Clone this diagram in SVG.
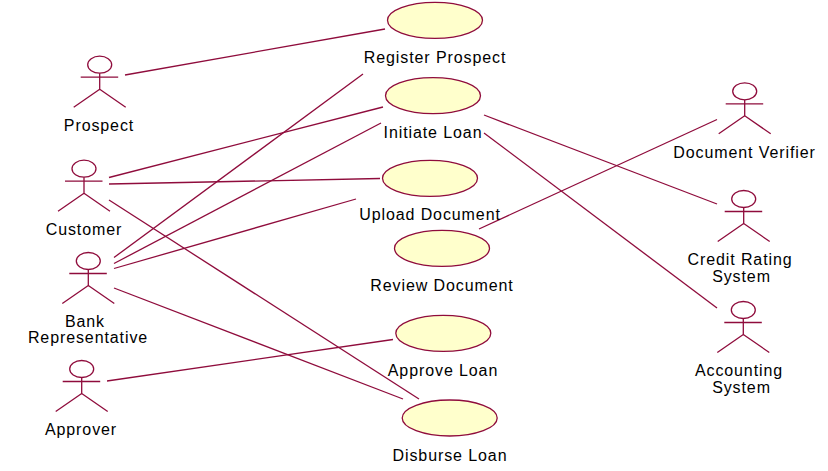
<svg xmlns="http://www.w3.org/2000/svg" width="828" height="471" viewBox="0 0 828 471">
<style>
text{font-family:"Liberation Sans",Arial,sans-serif;font-size:16px;letter-spacing:.9px;fill:#000;text-anchor:middle}
.l{fill:none;stroke:#8f0c3c;stroke-width:1.3}
.u{fill:#ffffcc;stroke:#8f0c3c;stroke-width:1.3}
.h{fill:#fff;stroke:#8f0c3c;stroke-width:1.3}
</style>
<defs>
<g id="actor"><ellipse class="h" cx="0" cy="0" rx="12" ry="8.5"/><path class="l" d="M-19 12.500H18.500M0 8.500V24.500M0 24.500L-26 42.500M0 24.500L26 42.500"/></g>
</defs>
<rect width="828" height="471" fill="#fff"/>
<g id="connectors" class="l">
<path d="M125 75L385 29"/>
<path d="M109 177.500L383 107"/>
<path d="M109 184L380 178.500"/>
<path d="M109 200L419 399"/>
<path d="M114 257.500L363 74"/>
<path d="M114 263.500L381 123"/>
<path d="M114 268.500L356 199"/>
<path d="M114 288L403 399"/>
<path d="M107 381L393 339.500"/>
<path d="M484 115L717 204"/>
<path d="M484 133L717 308"/>
<path d="M479 229L717 119.500"/>
</g>
<g id="prospect"><use href="#actor" x="99.700" y="64.700"/><text x="99" y="131">Prospect</text></g>
<g id="customer"><use href="#actor" x="84" y="168.700"/><text x="84" y="235">Customer</text></g>
<g id="bank-representative"><use href="#actor" x="88.300" y="261"/><text x="85" y="327">Bank</text><text x="88" y="343">Representative</text></g>
<g id="approver"><use href="#actor" x="81.700" y="369"/><text x="81" y="435">Approver</text></g>
<g id="document-verifier"><use href="#actor" x="744.700" y="91.300"/><text x="744.500" y="158">Document Verifier</text></g>
<g id="credit-rating-system"><use href="#actor" x="743.700" y="199"/><text x="740" y="265">Credit Rating</text><text x="741.500" y="282">System</text></g>
<g id="accounting-system"><use href="#actor" x="743.300" y="310"/><text x="739" y="376">Accounting</text><text x="741.500" y="393">System</text></g>
<g id="register-prospect"><ellipse class="u" cx="435" cy="20.300" rx="47.500" ry="18"/><text x="435" y="63">Register Prospect</text></g>
<g id="initiate-loan"><ellipse class="u" cx="433" cy="95.700" rx="47.500" ry="18"/><text x="433" y="138">Initiate Loan</text></g>
<g id="upload-document"><ellipse class="u" cx="430" cy="178.300" rx="47.500" ry="18"/><text x="430" y="220">Upload Document</text></g>
<g id="review-document"><ellipse class="u" cx="442" cy="248.300" rx="47.500" ry="18"/><text x="442" y="291">Review Document</text></g>
<g id="approve-loan"><ellipse class="u" cx="443.300" cy="333.300" rx="47.500" ry="18"/><text x="443" y="376">Approve Loan</text></g>
<g id="disburse-loan"><ellipse class="u" cx="449.700" cy="418" rx="47.500" ry="18"/><text x="450" y="461">Disburse Loan</text></g>
</svg>
